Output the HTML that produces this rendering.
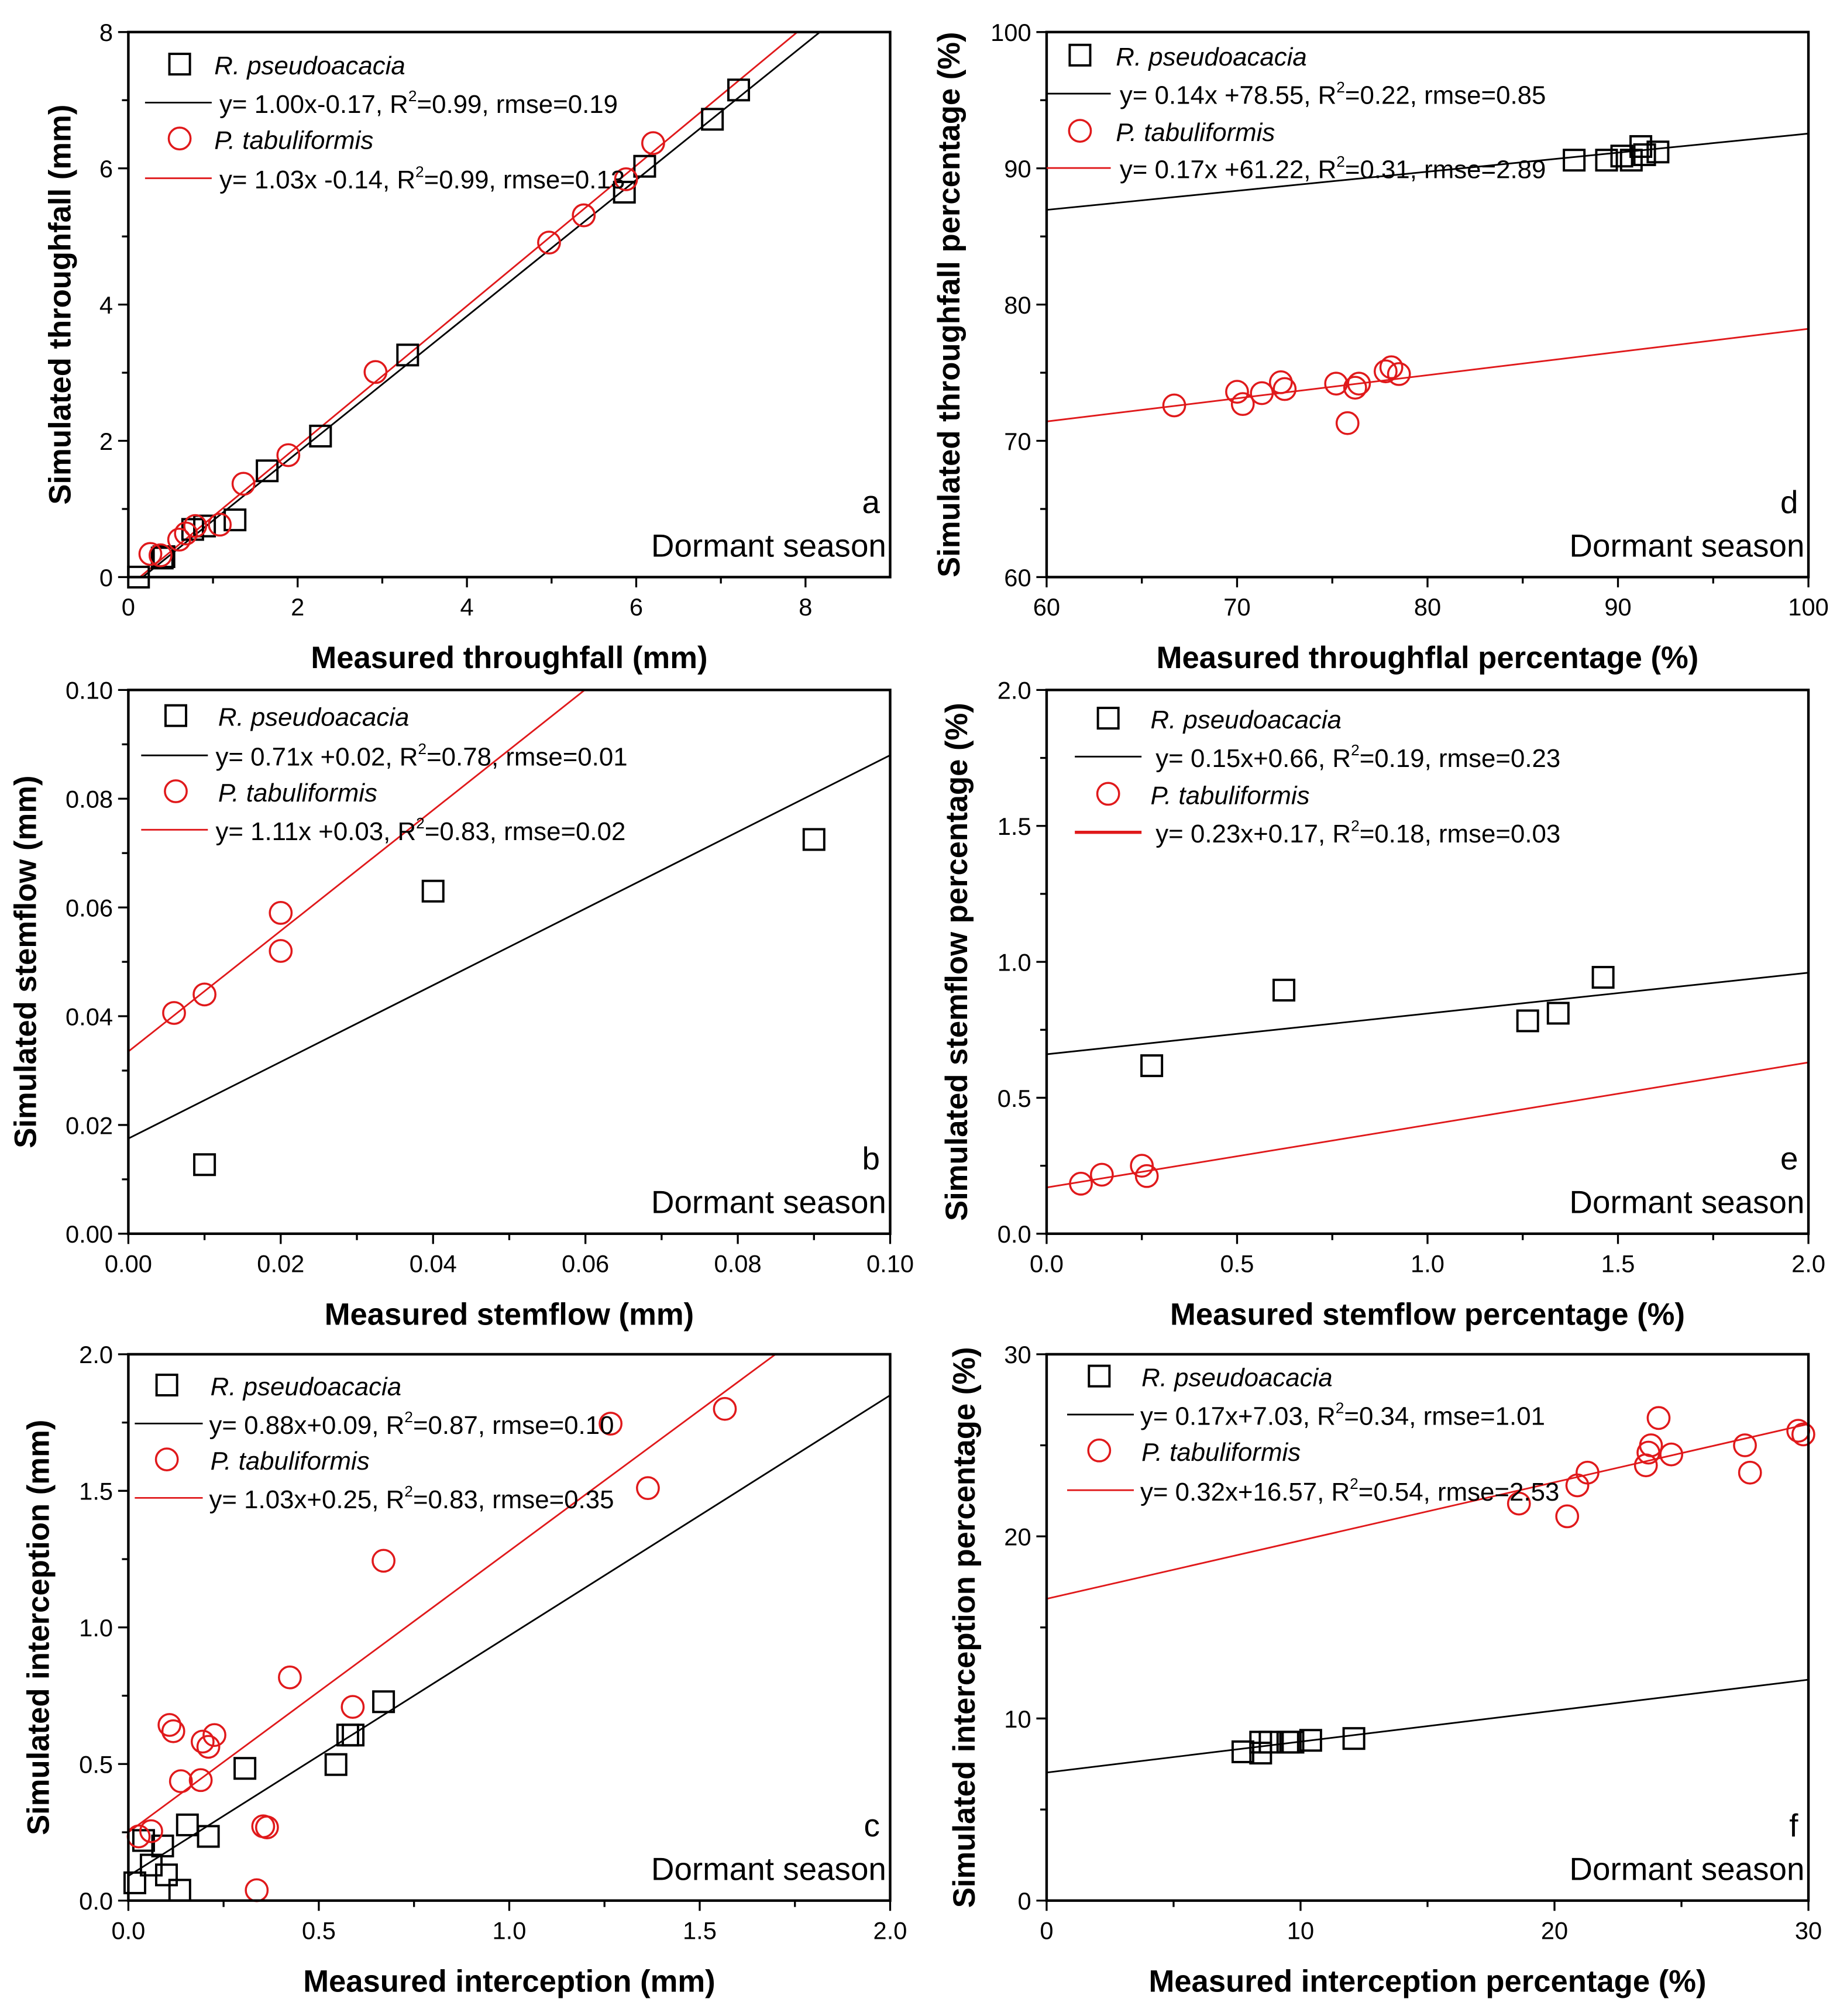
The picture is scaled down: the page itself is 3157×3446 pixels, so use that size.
<!DOCTYPE html>
<html><head><meta charset="utf-8"><style>
html,body{margin:0;padding:0;background:#fff;}
svg{display:block;}
text{font-family:"Liberation Sans",Arial,sans-serif;}
</style></head><body>
<svg id="fig" xmlns="http://www.w3.org/2000/svg" width="3157" height="3446" viewBox="0 0 1440 1572"></svg>
<script>
// Panel a
const aRpX=[0.12,0.4,0.42,0.76,0.9,1.26,1.64,2.27,3.3,5.86,6.1,6.9,7.21];
const aRpY=[0,0.28,0.3,0.7,0.75,0.84,1.56,2.07,3.26,5.65,6.03,6.72,7.15];
const aPtX=[0.26,0.38,0.6,0.68,0.79,1.08,1.36,1.89,2.92,4.97,5.38,5.88,6.2];
const aPtY=[0.34,0.32,0.55,0.64,0.75,0.77,1.37,1.79,3.01,4.91,5.31,5.84,6.37];
const aFit=[1.00,-0.17,1.03,-0.14];
// Panel d
const dRpX=[87.7,89.4,90.2,90.7,91.2,91.4,92.1];
const dRpY=[90.6,90.6,90.9,90.6,91.6,91.0,91.2];
const dPtX=[66.7,70,70.3,71.3,72.3,72.5,75.2,75.8,76.2,76.4,77.8,78.1,78.5];
const dPtY=[72.6,73.6,72.7,73.5,74.3,73.8,74.2,71.3,73.9,74.2,75.1,75.4,74.9];
const dFit=[0.14,78.55,0.17,61.22];
// Panel b
const bRpX=[0.01,0.04,0.09];
const bRpY=[0.0127,0.063,0.0725];
const bPtX=[0.006,0.01,0.02,0.02];
const bPtY=[0.0406,0.044,0.052,0.059];
const bFit=[0.705,0.0175,1.11,0.0335];
// Panel e
const eRpX=[0.276,0.623,1.263,1.343,1.461];
const eRpY=[0.618,0.896,0.783,0.811,0.943];
const ePtX=[0.09,0.145,0.25,0.263];
const ePtY=[0.184,0.217,0.25,0.212];
const eFit=[0.15,0.66,0.23,0.17];
// Panel c
const cRpX=[0.017,0.04,0.06,0.09,0.1,0.135,0.155,0.21,0.306,0.545,0.576,0.59,0.67];
const cRpY=[0.065,0.22,0.13,0.2,0.094,0.038,0.277,0.235,0.484,0.498,0.606,0.606,0.728];
const cPtX=[0.027,0.06,0.108,0.118,0.138,0.19,0.195,0.21,0.226,0.337,0.354,0.364,0.424,0.589,0.67,1.266,1.364,1.566];
const cPtY=[0.235,0.254,0.643,0.62,0.437,0.441,0.582,0.563,0.606,0.038,0.272,0.268,0.817,0.709,1.244,1.746,1.51,1.8];
const cFit=[0.88,0.09,1.03,0.25];
// Panel f
const fRpX=[7.73,8.43,8.43,8.8,9.5,9.7,10.4,12.1];
const fRpY=[8.17,8.1,8.7,8.7,8.7,8.7,8.8,8.9];
const fPtX=[18.6,20.5,20.9,21.3,23.6,23.7,23.8,24.1,24.6,27.5,27.7,29.6,29.8];
const fPtY=[21.8,21.1,22.8,23.5,23.9,24.6,25.0,26.5,24.5,25.0,23.5,25.8,25.6];
const fFit=[0.17,7.03,0.32,16.57];

const NS="http://www.w3.org/2000/svg";
const svg=document.getElementById('fig');
function mk(tag,attrs,parent,txt){const e=document.createElementNS(NS,tag);for(const k in attrs)e.setAttribute(k,attrs[k]);if(txt!==undefined)e.textContent=txt;(parent||svg).appendChild(e);return e;}

function panel(o){
  const g=mk('g',{});
  
  
  const X=v=>o.x0+(v-o.xr[0])/(o.xr[1]-o.xr[0])*(o.x1-o.x0);
  const Y=v=>o.y1-(v-o.yr[0])/(o.yr[1]-o.yr[0])*(o.y1-o.y0);
  const cid='clip'+o.id;
  const cp=mk('clipPath',{id:cid},g);mk('rect',{x:o.x0,y:o.y0,width:o.x1-o.x0,height:o.y1-o.y0},cp);
  const ticks=mk('g',{stroke:'#000','stroke-width':1.5},g);
  
  
  for(let i=0;i<o.xt.length;i++){const v=o.xt[i],px=X(v);
    mk('line',{x1:px,x2:px,y1:o.y1,y2:o.y1+8},ticks);
    const t=mk('text',{x:px,y:o.y1+30,'text-anchor':'middle','font-size':19,fill:'#000',stroke:'none'},g,o.xl[i]);
    
    
    if(i<o.xt.length-1){const m=X((v+o.xt[i+1])/2);mk('line',{x1:m,x2:m,y1:o.y1,y2:o.y1+5},ticks);}
  }
  for(let i=0;i<o.yt.length;i++){const v=o.yt[i],py=Y(v);
    mk('line',{x1:o.x0-8,x2:o.x0,y1:py,y2:py},ticks);
    const t=mk('text',{x:o.x0-12,y:py+7,'text-anchor':'end','font-size':19,fill:'#000',stroke:'none'},g,o.yl[i]);
    
    
    if(i<o.yt.length-1){const m=Y((v+o.yt[i+1])/2);mk('line',{x1:o.x0-5,x2:o.x0,y1:m,y2:m},ticks);}
  }
  const fl=mk('g',{'clip-path':'url(#'+cid+')'},g);
  const xa=o.xr[0],xb=o.xr[1];
  const l1=mk('line',{x1:X(xa),y1:Y(o.fit[0]*xa+o.fit[1]),x2:X(xb),y2:Y(o.fit[0]*xb+o.fit[1]),stroke:'#000','stroke-width':1.3},fl);
  
  
  const l2=mk('line',{x1:X(xa),y1:Y(o.fit[2]*xa+o.fit[3]),x2:X(xb),y2:Y(o.fit[2]*xb+o.fit[3]),stroke:'#e0191b','stroke-width':1.3},fl);
  
  
  const pts=mk('g',{},g);
  for(let i=0;i<o.rx.length;i++){
    const s=mk('rect',{x:X(o.rx[i])-8,y:Y(o.ry[i])-8,width:16,height:16,fill:'none',stroke:'#000','stroke-width':1.8},pts);
    
    
  }
  for(let i=0;i<o.px.length;i++){
    const c=mk('circle',{cx:X(o.px[i]),cy:Y(o.py[i]),r:8.5,fill:'none',stroke:'#e0191b','stroke-width':1.6},pts);
    
    
  }
  const fr=mk('rect',{x:o.x0,y:o.y0,width:o.x1-o.x0,height:o.y1-o.y0,fill:'none',stroke:'#000','stroke-width':2},g);
  
  
  const L=o.leg;const lg=mk('g',{},g);
  
  
  mk('rect',{x:L.mx-8,y:L.y1-8,width:16,height:16,fill:'none',stroke:'#000','stroke-width':1.8},lg);
  mk('text',{x:L.tx,y:L.y1+8,'font-size':20,'font-style':'italic'},lg,'R. pseudoacacia');
  mk('line',{x1:L.lx0,x2:L.lx1,y1:L.y2,y2:L.y2,stroke:'#000','stroke-width':1.3},lg);
  const e1=mk('text',{x:L.ex,y:L.y2+8,'font-size':20},lg);e1.innerHTML=L.e1;
  mk('circle',{cx:L.mx,cy:L.y3,r:8.5,fill:'none',stroke:'#e0191b','stroke-width':1.6},lg);
  mk('text',{x:L.tx,y:L.y3+8,'font-size':20,'font-style':'italic'},lg,'P. tabuliformis');
  mk('line',{x1:L.lx0,x2:L.lx1,y1:L.y4,y2:L.y4,stroke:'#e0191b','stroke-width':L.rw||1.3},lg);
  const e2=mk('text',{x:L.ex,y:L.y4+8,'font-size':20},lg);e2.innerHTML=L.e2;
  const pl=mk('text',{x:o.x1-8,y:o.y1-50,'text-anchor':'end','font-size':25},g,o.id);
  
  
  const ds=mk('text',{x:o.x1-3,y:o.y1-16,'text-anchor':'end','font-size':25},g,'Dormant season');
  
  
  const xt=mk('text',{x:(o.x0+o.x1)/2,y:o.y1+71,'text-anchor':'middle','font-size':24,'font-weight':'bold'},g,o.xtitle);
  
  
  const yc=(o.y0+o.y1)/2;
  const yt=mk('text',{x:o.ytx,y:yc,'text-anchor':'middle','font-size':24,'font-weight':'bold',transform:'rotate(-90 '+o.ytx+' '+yc+')'},g,o.ytitle);
  
  
}
const sup='<tspan dy="-9" font-size="12">2</tspan><tspan dy="9">';
panel({id:'a',x0:100,x1:694,y0:25,y1:450,xr:[0,9],yr:[0,8],xt:[0,2,4,6,8],xl:['0','2','4','6','8'],yt:[0,2,4,6,8],yl:['0','2','4','6','8'],
 rx:aRpX,ry:aRpY,px:aPtX,py:aPtY,fit:aFit,xtitle:'Measured throughfall (mm)',ytitle:'Simulated throughfall (mm)',ytx:55,
 leg:{mx:140,tx:167,lx0:113,lx1:165,ex:171,y1:50,y2:80,y3:108,y4:139,e1:'y= 1.00x-0.17, R'+sup+'=0.99, rmse=0.19</tspan>',e2:'y= 1.03x -0.14, R'+sup+'=0.99, rmse=0.13</tspan>'}});
panel({id:'d',x0:816,x1:1410,y0:25,y1:450,xr:[60,100],yr:[60,100],xt:[60,70,80,90,100],xl:['60','70','80','90','100'],yt:[60,70,80,90,100],yl:['60','70','80','90','100'],
 rx:dRpX,ry:dRpY,px:dPtX,py:dPtY,fit:dFit,xtitle:'Measured throughflal percentage (%)',ytitle:'Simulated throughfall percentage (%)',ytx:748,
 leg:{mx:842,tx:870,lx0:816,lx1:866,ex:873,y1:43,y2:73,y3:102,y4:131,e1:'y= 0.14x +78.55, R'+sup+'=0.22, rmse=0.85</tspan>',e2:'y= 0.17x +61.22, R'+sup+'=0.31, rmse=2.89</tspan>'}});
panel({id:'b',x0:100,x1:694,y0:538,y1:962,xr:[0,0.1],yr:[0,0.1],xt:[0,0.02,0.04,0.06,0.08,0.1],xl:['0.00','0.02','0.04','0.06','0.08','0.10'],yt:[0,0.02,0.04,0.06,0.08,0.1],yl:['0.00','0.02','0.04','0.06','0.08','0.10'],
 rx:bRpX,ry:bRpY,px:bPtX,py:bPtY,fit:bFit,xtitle:'Measured stemflow (mm)',ytitle:'Simulated stemflow (mm)',ytx:28,
 leg:{mx:137,tx:170,lx0:110,lx1:162,ex:168,y1:558,y2:589,y3:617,y4:647,e1:'y= 0.71x +0.02, R'+sup+'=0.78, rmse=0.01</tspan>',e2:'y= 1.11x +0.03, R'+sup+'=0.83, rmse=0.02</tspan>'}});
panel({id:'e',x0:816,x1:1410,y0:538,y1:962,xr:[0,2],yr:[0,2],xt:[0,0.5,1,1.5,2],xl:['0.0','0.5','1.0','1.5','2.0'],yt:[0,0.5,1,1.5,2],yl:['0.0','0.5','1.0','1.5','2.0'],
 rx:eRpX,ry:eRpY,px:ePtX,py:ePtY,fit:eFit,xtitle:'Measured stemflow percentage (%)',ytitle:'Simulated stemflow percentage (%)',ytx:754,
 leg:{mx:864,tx:897,lx0:838,lx1:890,ex:901,y1:560,y2:590,y3:619,y4:649,rw:2.5,e1:'y= 0.15x+0.66, R'+sup+'=0.19, rmse=0.23</tspan>',e2:'y= 0.23x+0.17, R'+sup+'=0.18, rmse=0.03</tspan>'}});
panel({id:'c',x0:100,x1:694,y0:1056,y1:1482,xr:[0,2],yr:[0,2],xt:[0,0.5,1,1.5,2],xl:['0.0','0.5','1.0','1.5','2.0'],yt:[0,0.5,1,1.5,2],yl:['0.0','0.5','1.0','1.5','2.0'],
 rx:cRpX,ry:cRpY,px:cPtX,py:cPtY,fit:cFit,xtitle:'Measured interception (mm)',ytitle:'Simulated interception (mm)',ytx:38,
 leg:{mx:130,tx:164,lx0:105,lx1:158,ex:163,y1:1080,y2:1110,y3:1138,y4:1168,e1:'y= 0.88x+0.09, R'+sup+'=0.87, rmse=0.10</tspan>',e2:'y= 1.03x+0.25, R'+sup+'=0.83, rmse=0.35</tspan>'}});
panel({id:'f',x0:816,x1:1410,y0:1056,y1:1482,xr:[0,30],yr:[0,30],xt:[0,10,20,30],xl:['0','10','20','30'],yt:[0,10,20,30],yl:['0','10','20','30'],
 rx:fRpX,ry:fRpY,px:fPtX,py:fPtY,fit:fFit,xtitle:'Measured interception percentage (%)',ytitle:'Simulated interception percentage (%)',ytx:760,
 leg:{mx:857,tx:890,lx0:832,lx1:884,ex:889,y1:1073,y2:1103,y3:1131,y4:1162,e1:'y= 0.17x+7.03, R'+sup+'=0.34, rmse=1.01</tspan>',e2:'y= 0.32x+16.57, R'+sup+'=0.54, rmse=2.53</tspan>'}});
</script>
</body></html>
